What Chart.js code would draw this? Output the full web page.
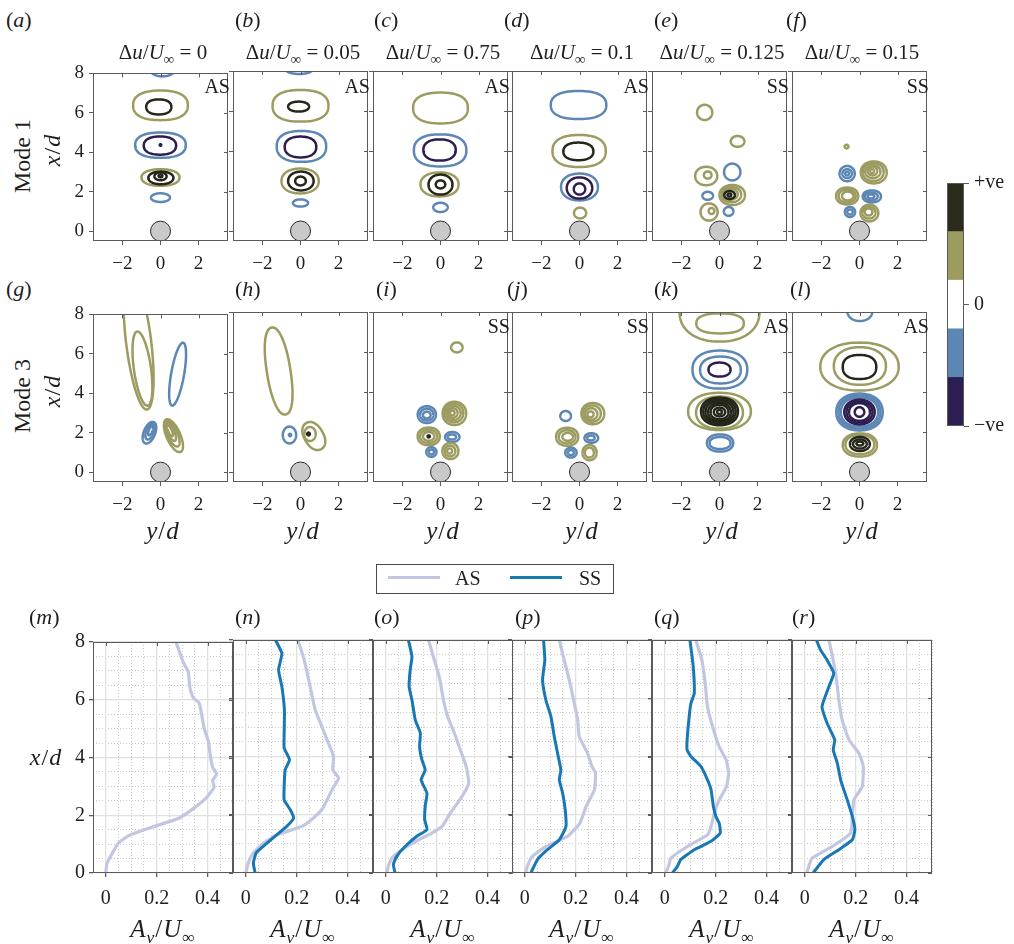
<!DOCTYPE html>
<html>
<head>
<meta charset="utf-8">
<script src="https://cdn.jsdelivr.net/npm/chart.js@4.4.1/dist/chart.umd.min.js"></script>
<style>
  body { margin: 0; background: #fff; }
  #fig { position: relative; width: 1014px; height: 944px; overflow: hidden;
         font-family: 'Liberation Serif', 'Times New Roman', serif; color: #1e1e1e; }
  .t { position: absolute; white-space: nowrap; line-height: 1; }
  .c { transform: translate(-50%, -50%); }
  .l { transform: translateY(-50%); }
  .r { transform: translate(-100%, -50%); }
  .rot { transform: translate(-50%, -50%) rotate(-90deg); }
  .sub { font-size: 70%; position: relative; top: 0.35em; }
  .wide { letter-spacing: 1px; }
  canvas { position: absolute; }
</style>
</head>
<body>
<div id="fig"></div>
<script>
// ---------------- data ----------------
const speedRatios = ['0', '0.05', '0.75', '0.1', '0.125', '0.15'];
const mode1States = ['AS', 'AS', 'AS', 'AS', 'SS', 'SS'];
const mode3States = ['', '', 'SS', 'SS', 'AS', 'AS'];
const panelLetters = ['a','b','c','d','e','f','g','h','i','j','k','l','m','n','o','p','q','r'];
const legendLabels = ['AS', 'SS'];
const colourbarTicks = ['−ve', '0', '+ve'];
const contourXTicks = [-2, 0, 2];
const contourYTicks = [0, 2, 4, 6, 8];
const profileXTicks = [0, 0.2, 0.4];
const profileYTicks = [0, 2, 4, 6, 8];
const cylinderCentre = [0, 0];

// contour loops: [level, y/d centre, x/d centre, half-width, half-height, tilt (deg), squareness]
const contA = [
  [-1, 0.1, 8.1, 0.58, 0.25, 0, 2], [1, 0, 6.38, 1.44, 0.75, 0, 2.4], [2, -0.09, 6.3, 0.66, 0.38, 0, 2.3],
  [-1, 0, 4.36, 1.33, 0.64, 0, 2.4], [-2, -0.03, 4.34, 0.85, 0.46, 0, 2.3], [-2, 0, 4.37, 0.04, 0.04, 0, 2],
  [1, 0, 2.72, 1.0, 0.42, 0, 2.2], [2, 0.02, 2.7, 0.66, 0.32, 0, 2.1], [2, 0, 2.78, 0.32, 0.2, 0, 2],
  [2, 0, 2.8, 0.1, 0.07, 0, 2], [-1, 0, 1.7, 0.5, 0.22, 0, 2]
];
const contB = [
  [-1, -0.07, 8.1, 0.73, 0.25, 0, 2], [1, 0, 6.26, 1.47, 0.79, 0, 2.4], [2, -0.1, 6.22, 0.55, 0.25, 0, 2.1],
  [-1, 0.05, 4.23, 1.3, 0.77, 0, 2.4], [-2, 0, 4.2, 0.83, 0.52, 0, 2.3], [1, -0.02, 2.5, 0.98, 0.62, 0, 2.2],
  [2, 0.02, 2.5, 0.67, 0.47, 0, 2.1], [2, 0, 2.5, 0.28, 0.22, 0, 2], [-1, 0, 1.4, 0.4, 0.18, 0, 2]
];
const contC = [
  [1, 0, 6.15, 1.44, 0.77, 0, 2.4], [-1, -0.02, 4.03, 1.38, 0.8, 0, 2.4], [-2, -0.05, 4.05, 0.85, 0.53, 0, 2.3],
  [1, -0.05, 2.33, 1.0, 0.6, 0, 2.2], [2, 0, 2.32, 0.63, 0.5, 0, 2.1], [2, 0, 2.33, 0.25, 0.2, 0, 2],
  [-1, 0, 1.18, 0.38, 0.23, 0, 2]
];
const contD = [
  [-1, -0.05, 6.3, 1.46, 0.7, 0, 2.4], [1, -0.02, 4.0, 1.4, 0.8, 0, 2.4], [2, -0.06, 3.98, 0.79, 0.44, 0, 2.3],
  [-1, 0, 2.2, 0.97, 0.67, 0, 2.2], [-2, 0, 2.15, 0.67, 0.53, 0, 2.1], [-2, 0, 2.1, 0.3, 0.28, 0, 2],
  [1, 0.03, 0.9, 0.32, 0.27, 0, 2]
];
const contE = [
  [1, -0.78, 5.93, 0.4, 0.38, 0, 2], [1, 0.95, 4.48, 0.36, 0.27, 0, 2], [1, -0.7, 2.75, 0.58, 0.46, 0, 2.1],
  [1, -0.62, 2.8, 0.2, 0.18, 0, 2], [-1, 0.67, 2.95, 0.43, 0.42, 0, 2], [-1, -0.62, 1.76, 0.28, 0.2, 0, 2],
  [1, 0.67, 1.8, 0.67, 0.5, 0, 2.1], [1, 0.62, 1.82, 0.52, 0.38, 0, 2.1], [1, 0.56, 1.84, 0.4, 0.28, 0, 2],
  [2, 0.53, 1.8, 0.28, 0.2, 0, 2], [2, 0.52, 1.8, 0.1, 0.08, 0, 2], [1, -0.55, 0.95, 0.45, 0.43, 0, 2],
  [1, -0.42, 1.0, 0.15, 0.15, 0, 2], [-1, 0.48, 0.98, 0.25, 0.22, 0, 2]
];
const contF = [
  [1, -0.68, 4.22, 0.1, 0.09, 0, 2],
  [-1, -0.65, 2.87, 0.4, 0.38, 0, 2], [-1, -0.65, 2.87, 0.25, 0.22, 0, 2], [-1, -0.65, 2.87, 0.1, 0.09, 0, 2],
  [1, 0.75, 2.93, 0.68, 0.55, 0, 2.1], [1, 0.72, 2.95, 0.55, 0.45, 0, 2.1], [1, 0.7, 2.97, 0.4, 0.33, 0, 2],
  [1, 0.68, 3.0, 0.25, 0.22, 0, 2], [1, 0.66, 3.0, 0.1, 0.1, 0, 2],
  [1, -0.65, 1.75, 0.58, 0.42, 0, 2.2], [1, -0.65, 1.75, 0.45, 0.32, 0, 2.1], [1, -0.62, 1.75, 0.3, 0.22, 0, 2],
  [-1, 0.65, 1.73, 0.48, 0.3, 0, 2.1], [-1, 0.62, 1.73, 0.34, 0.2, 0, 2], [-1, 0.6, 1.73, 0.18, 0.1, 0, 2],
  [-1, -0.5, 0.95, 0.27, 0.25, 0, 2], [-1, -0.5, 0.95, 0.14, 0.13, 0, 2],
  [1, 0.52, 0.9, 0.47, 0.42, 0, 2], [1, 0.5, 0.92, 0.34, 0.3, 0, 2], [1, 0.48, 0.95, 0.2, 0.18, 0, 2]
];
const contG = [
  [1, -1.15, 6.6, 0.66, 3.45, 7, 2], [1, -0.95, 5.25, 0.45, 1.9, 8, 2], [-1, 0.9, 4.97, 0.34, 1.62, -10, 2],
  [-1, -0.58, 2.0, 0.3, 0.58, -22, 2], [-1, -0.55, 2.05, 0.2, 0.42, -22, 2], [-1, -0.52, 2.1, 0.1, 0.25, -22, 2],
  [1, 0.68, 1.85, 0.36, 0.9, 24, 2], [1, 0.62, 1.95, 0.27, 0.7, 24, 2], [1, 0.55, 2.05, 0.18, 0.5, 24, 2],
  [1, 0.5, 2.1, 0.1, 0.3, 24, 2]
];
const contH = [
  [1, -1.15, 5.05, 0.62, 2.2, 9, 2.2], [-1, -0.58, 1.85, 0.35, 0.42, 0, 2], [-1, -0.55, 1.85, 0.06, 0.06, 0, 2],
  [1, 0.7, 1.8, 0.5, 0.75, 30, 2.2], [1, 0.5, 1.9, 0.3, 0.35, 0, 2], [2, 0.42, 1.9, 0.07, 0.07, 0, 2]
];
const contI = [
  [1, 0.86, 6.23, 0.3, 0.25, 0, 2],
  [-1, -0.72, 2.87, 0.48, 0.42, 0, 2.1], [-1, -0.72, 2.87, 0.35, 0.3, 0, 2], [-1, -0.72, 2.85, 0.2, 0.17, 0, 2],
  [1, 0.73, 2.93, 0.62, 0.58, 0, 2.1], [1, 0.7, 2.95, 0.5, 0.47, 0, 2.1], [1, 0.68, 2.95, 0.38, 0.36, 0, 2],
  [1, 0.65, 2.95, 0.25, 0.24, 0, 2], [1, 0.62, 2.95, 0.12, 0.12, 0, 2],
  [1, -0.62, 1.78, 0.58, 0.44, 0, 2.2], [1, -0.62, 1.78, 0.45, 0.33, 0, 2.1], [1, -0.62, 1.78, 0.3, 0.22, 0, 2],
  [2, -0.62, 1.78, 0.06, 0.05, 0, 2],
  [-1, 0.62, 1.75, 0.38, 0.25, 0, 2], [-1, 0.6, 1.75, 0.22, 0.13, 0, 2],
  [-1, -0.48, 1.0, 0.27, 0.24, 0, 2], [-1, -0.48, 1.0, 0.14, 0.12, 0, 2],
  [1, 0.52, 1.05, 0.42, 0.4, 0, 2.1], [1, 0.5, 1.05, 0.28, 0.27, 0, 2], [1, 0.48, 1.05, 0.13, 0.13, 0, 2]
];
const contJ = [
  [-1, -0.73, 2.8, 0.28, 0.25, 0, 2],
  [1, 0.7, 2.92, 0.6, 0.53, 0, 2.1], [1, 0.66, 2.92, 0.46, 0.41, 0, 2.1], [1, 0.62, 2.9, 0.32, 0.29, 0, 2],
  [1, 0.58, 2.88, 0.16, 0.15, 0, 2],
  [1, -0.65, 1.76, 0.58, 0.45, 0, 2.2], [1, -0.65, 1.76, 0.44, 0.33, 0, 2.1], [1, -0.62, 1.76, 0.28, 0.2, 0, 2],
  [-1, 0.62, 1.7, 0.36, 0.24, 0, 2], [-1, 0.6, 1.7, 0.2, 0.12, 0, 2],
  [-1, -0.45, 0.97, 0.3, 0.25, 0, 2], [-1, -0.45, 0.97, 0.16, 0.13, 0, 2],
  [1, 0.53, 0.97, 0.37, 0.38, 0, 2.1], [1, 0.52, 0.97, 0.24, 0.25, 0, 2]
];
const contK = [
  [1, 0, 8.0, 2.1, 1.48, 0, 2.2], [1, 0.03, 7.43, 1.25, 0.5, 0, 2.4],
  [-1, 0.02, 5.12, 1.44, 0.95, 0, 2.3], [-1, 0.05, 5.1, 1.07, 0.67, 0, 2.3], [-2, 0, 5.12, 0.58, 0.35, 0, 2.2],
  [1, 0, 3.03, 1.65, 0.93, 0, 2.2], [1, 0, 2.97, 1.23, 0.8, 0, 2.2],
  [2, 0, 3.03, 0.97, 0.69, 0, 2.2], [2, 0, 3.03, 0.85, 0.6, 0, 2.2], [2, 0, 3.02, 0.73, 0.52, 0, 2.2],
  [2, 0, 3.0, 0.6, 0.45, 0, 2.1], [2, 0, 3.0, 0.47, 0.36, 0, 2.1], [2, 0, 3.0, 0.3, 0.22, 0, 2],
  [2, 0, 3.0, 0.13, 0.1, 0, 2],
  [-1, 0.03, 1.45, 0.69, 0.43, 0, 2.2], [-1, 0.03, 1.45, 0.55, 0.3, 0, 2.2]
];
const contL = [
  [-1, 0.02, 8.05, 0.66, 0.5, 0, 2.1],
  [1, 0, 5.27, 2.06, 1.2, 0, 2.2], [1, 0.02, 5.3, 1.37, 0.94, 0, 2.2], [2, 0, 5.25, 0.88, 0.6, 0, 2.4],
  [-1, 0, 3.0, 1.22, 0.92, 0, 2.2], [-1, 0, 3.0, 1.1, 0.82, 0, 2.2], [-1, 0, 3.0, 0.98, 0.73, 0, 2.2],
  [-2, 0, 3.0, 0.8, 0.62, 0, 2.1], [-2, 0, 3.0, 0.68, 0.53, 0, 2.1], [-2, 0, 3.0, 0.55, 0.44, 0, 2.1],
  [-2, 0, 3.0, 0.25, 0.24, 0, 2],
  [1, 0.02, 1.35, 0.9, 0.58, 0, 2.2], [1, 0.02, 1.37, 0.76, 0.48, 0, 2.2],
  [2, 0.02, 1.4, 0.52, 0.35, 0, 2.1], [2, 0.02, 1.4, 0.36, 0.23, 0, 2], [2, 0.02, 1.42, 0.18, 0.1, 0, 2]
];

// amplitude profiles: [A_v/U, x/d]
const asM = [[0.276,8],[0.304,7.31],[0.324,6.97],[0.331,6.4],[0.344,6.06],[0.367,5.89],[0.377,5.49],[0.386,5.03],
  [0.403,4.57],[0.412,4.0],[0.42,3.66],[0.436,3.43],[0.42,3.2],[0.426,2.97],[0.396,2.61],[0.344,2.23],[0.285,1.89],
  [0.186,1.6],[0.094,1.31],[0.049,1.03],[0.026,0.69],[0.005,0.34],[0.0,0]];
const asN = [[0.205,8],[0.23,7.31],[0.253,6.4],[0.273,5.6],[0.299,5.03],[0.325,4.46],[0.345,4.0],[0.342,3.54],
  [0.365,3.26],[0.339,2.86],[0.303,2.23],[0.266,1.89],[0.22,1.6],[0.122,1.31],[0.07,1.03],[0.03,0.69],[0.01,0.34],[0.0,0]];
const ssN = [[0.117,8],[0.142,7.54],[0.129,6.97],[0.142,6.4],[0.152,5.6],[0.151,4.8],[0.151,4.29],[0.172,3.89],
  [0.155,3.54],[0.151,2.97],[0.151,2.51],[0.175,2.17],[0.188,1.89],[0.161,1.6],[0.115,1.26],[0.076,0.97],
  [0.041,0.69],[0.03,0.34],[0.037,0]];
const asO = [[0.168,8],[0.191,7.31],[0.21,6.74],[0.227,5.94],[0.243,5.37],[0.27,4.8],[0.293,4.23],[0.316,3.66],
  [0.326,3.09],[0.3,2.63],[0.254,2.06],[0.221,1.6],[0.181,1.37],[0.129,1.14],[0.063,0.8],[0.024,0.51],[0.01,0.23],[0.004,0]];
const ssO = [[0.089,8],[0.103,7.43],[0.096,6.97],[0.092,6.4],[0.103,5.94],[0.116,5.26],[0.136,4.8],[0.133,4.34],
  [0.142,3.89],[0.155,3.54],[0.139,3.2],[0.162,2.74],[0.155,2.29],[0.153,1.83],[0.162,1.49],[0.122,1.26],
  [0.076,0.91],[0.043,0.57],[0.03,0.29],[0.037,0]];
const asP = [[0.136,8],[0.155,7.31],[0.175,6.63],[0.192,5.94],[0.208,5.26],[0.214,4.69],[0.247,4.11],[0.264,3.66],
  [0.278,3.43],[0.274,2.86],[0.241,2.29],[0.217,1.71],[0.168,1.26],[0.083,0.91],[0.03,0.57],[0.01,0.23],[0.004,0]];
const ssP = [[0.074,8],[0.079,7.31],[0.07,6.63],[0.083,5.94],[0.103,5.37],[0.116,4.69],[0.129,4.11],[0.142,3.54],
  [0.136,3.2],[0.149,2.74],[0.159,2.17],[0.162,1.6],[0.136,1.14],[0.089,0.8],[0.05,0.46],[0.024,0]];
const asQ = [[0.122,8],[0.146,7.31],[0.159,6.51],[0.168,5.71],[0.188,5.03],[0.214,4.34],[0.241,3.89],[0.251,3.43],
  [0.243,2.97],[0.214,2.51],[0.195,2.06],[0.182,1.6],[0.168,1.31],[0.089,0.91],[0.024,0.51],[0.017,0.29],[0.004,0]];
const ssQ = [[0.099,8],[0.112,7.09],[0.116,6.17],[0.103,5.83],[0.096,5.37],[0.088,4.57],[0.088,4.23],[0.103,4.0],
  [0.142,3.66],[0.168,3.2],[0.182,2.86],[0.191,2.29],[0.201,1.94],[0.214,1.71],[0.218,1.37],[0.182,1.09],
  [0.116,0.8],[0.063,0.46],[0.05,0.23],[0.03,0]];
const asR = [[0.095,8],[0.112,7.31],[0.125,6.63],[0.134,5.94],[0.147,5.26],[0.174,4.57],[0.213,4.11],[0.23,3.66],
  [0.226,2.97],[0.193,2.51],[0.187,1.94],[0.18,1.37],[0.108,0.91],[0.029,0.51],[0.016,0.23],[0.009,0]];
const ssR = [[0.046,8],[0.062,7.66],[0.088,7.31],[0.114,6.86],[0.095,6.4],[0.068,5.71],[0.088,5.14],[0.118,4.57],
  [0.112,4.23],[0.128,3.77],[0.141,3.2],[0.167,2.51],[0.187,1.94],[0.197,1.49],[0.187,1.14],[0.134,0.8],
  [0.075,0.46],[0.033,0]];

// ---------------- styling / layout ----------------
const serif = "'Liberation Serif', 'Times New Roman', serif";
const ink = '#1e1e1e';
const frameColour = '#5a5a5a';
const asColour = '#c3c6e1';
const ssColour = '#1778b5';
const levelColour = { '2': '#25261a', '1': '#9c9b60', '-1': '#5c87b5', '-2': '#2c1e50' };
const bandColours = ['#2c1e50', '#5c87b5', '#ffffff', '#9c9b60', '#2b2c1c'];
const colLeft = [93, 233, 373, 512, 652, 792];
const colW = 140;
const rowTop = [71, 312, 640];

Chart.defaults.font.family = serif;
Chart.defaults.color = ink;

const fmt = v => (v < 0 ? '−' + (-v) : String(v));
const fixedTicks = vals => s => { s.ticks = vals.map(v => ({ value: v })); };

// box around the plotting area plus the inward ticks on the top and right edges
Chart.register({
  id: 'frame',
  afterDraw(chart, args, opts) {
    const { ctx, chartArea: a, scales } = chart;
    ctx.save();
    ctx.strokeStyle = frameColour;
    ctx.lineWidth = 1;
    ctx.strokeRect(Math.round(a.left) + 0.5, Math.round(a.top) + 0.5,
                   Math.round(a.right - a.left) - 1, Math.round(a.bottom - a.top) - 1);
    ctx.beginPath();
    (opts.xt || []).forEach(v => {
      const px = Math.round(scales.x.getPixelForValue(v)) + 0.5;
      ctx.moveTo(px, a.top); ctx.lineTo(px, a.top + 4);
    });
    (opts.yt || []).forEach(v => {
      const py = Math.round(scales.y.getPixelForValue(v)) + 0.5;
      ctx.moveTo(a.right, py); ctx.lineTo(a.right - 4, py);
    });
    ctx.stroke();
    ctx.restore();
  }
});

// closed contour loops, drawn as tilted superellipses in data coordinates
Chart.register({
  id: 'contours',
  afterDatasetsDraw(chart, args, opts) {
    if (!opts.items) return;
    const { ctx, chartArea: a, scales: { x, y } } = chart;
    ctx.save();
    ctx.beginPath();
    ctx.rect(a.left, a.top, a.right - a.left, a.bottom - a.top);
    ctx.clip();
    ctx.lineWidth = 2.5;
    ctx.lineJoin = 'round';
    for (const [lvl, cx, cy, rx, ry, tilt, n] of opts.items) {
      const px = x.getPixelForValue(cx), py = y.getPixelForValue(cy);
      const sx = Math.abs(x.getPixelForValue(cx + rx) - px);
      const sy = Math.abs(y.getPixelForValue(cy + ry) - py);
      const th = -tilt * Math.PI / 180, ct = Math.cos(th), st = Math.sin(th);
      ctx.strokeStyle = levelColour[lvl];
      ctx.beginPath();
      for (let i = 0; i <= 120; i++) {
        const t = i / 120 * 2 * Math.PI, c = Math.cos(t), s = Math.sin(t);
        const u = sx * Math.sign(c) * Math.pow(Math.abs(c), 2 / n);
        const w = -sy * Math.sign(s) * Math.pow(Math.abs(s), 2 / n);
        const X = px + u * ct - w * st, Y = py + u * st + w * ct;
        if (i === 0) ctx.moveTo(X, Y); else ctx.lineTo(X, Y);
      }
      ctx.closePath();
      ctx.stroke();
    }
    ctx.restore();
  }
});

const fig = document.getElementById('fig');

function addChart(left, top, width, height, config) {
  const c = document.createElement('canvas');
  c.width = width; c.height = height;
  c.style.left = left + 'px'; c.style.top = top + 'px';
  c.style.width = width + 'px'; c.style.height = height + 'px';
  fig.appendChild(c);
  config.options.responsive = false;
  config.options.animation = false;
  config.options.events = [];
  return new Chart(c, config);
}

function text(html, x, y, size, cls) {
  const d = document.createElement('div');
  d.className = 't ' + cls;
  d.style.left = x + 'px';
  d.style.top = y + 'px';
  d.style.fontSize = size + 'px';
  d.innerHTML = html;
  fig.appendChild(d);
}

function contourPanel(col, top, items, showY) {
  const L = colLeft[col];
  addChart(L - 40, top - 14, 40 + colW + 6, 14 + 170 + 38, {
    type: 'scatter',
    data: {
      datasets: [{
        data: [{ x: cylinderCentre[0], y: cylinderCentre[1] }],
        pointRadius: 10, backgroundColor: '#c9c9c9', borderColor: '#2a2a2a', borderWidth: 1
      }]
    },
    options: {
      layout: { padding: { left: 0, top: 14, right: 6, bottom: 0 } },
      plugins: {
        legend: { display: false }, tooltip: { enabled: false },
        contours: { items }, frame: { xt: contourXTicks, yt: contourYTicks }
      },
      scales: {
        x: {
          type: 'linear', min: -3.55, max: 3.55,
          afterBuildTicks: fixedTicks(contourXTicks), afterFit: s => { s.height = 38; },
          border: { display: false },
          grid: { drawOnChartArea: false, tickLength: 4, tickColor: frameColour },
          ticks: { font: { size: 19 }, color: ink, padding: 8, maxRotation: 0, callback: fmt }
        },
        y: {
          type: 'linear', min: -0.5, max: 8,
          afterBuildTicks: fixedTicks(contourYTicks), afterFit: s => { s.width = 40; },
          border: { display: false },
          grid: { drawOnChartArea: false, tickLength: 4, tickColor: frameColour },
          ticks: { display: showY, font: { size: 19 }, color: ink, padding: 5, callback: fmt }
        }
      }
    }
  });
}

function profilePanel(col, as, ss) {
  const L = colLeft[col];
  const pts = arr => arr.map(([x, y]) => ({ x, y }));
  const datasets = [];
  if (ss) datasets.push({ label: 'SS', data: pts(ss), showLine: true, borderColor: ssColour,
                          borderWidth: 3, pointRadius: 0, tension: 0.15, order: 0 });
  datasets.push({ label: 'AS', data: pts(as), showLine: true, borderColor: asColour,
                  borderWidth: 3.2, pointRadius: 0, tension: 0.15, order: 1 });
  const minorX = [], minorY = [];
  for (let i = -1; i <= 10; i++) if (i % 4 !== 0) minorX.push(i * 0.05);
  for (let i = 1; i < 16; i++) if (i % 4 !== 0) minorY.push(i * 0.5);
  addChart(L - 40, rowTop[2] - 14, 40 + colW + 6, 14 + 233 + 42, {
    type: 'scatter',
    data: { datasets },
    options: {
      layout: { padding: { left: 0, top: 14, right: 6, bottom: 0 } },
      plugins: {
        legend: { display: false }, tooltip: { enabled: false },
        frame: { xt: profileXTicks, yt: profileYTicks }
      },
      scales: {
        x2: {
          type: 'linear', position: 'bottom', min: -0.05, max: 0.5,
          afterBuildTicks: fixedTicks(minorX), afterFit: s => { s.height = 0; },
          ticks: { display: false },
          border: { display: false, dash: [1, 2] },
          grid: { color: '#bdbdbd', lineWidth: 0.8, drawTicks: false }
        },
        y2: {
          type: 'linear', position: 'left', min: 0, max: 8,
          afterBuildTicks: fixedTicks(minorY), afterFit: s => { s.width = 0; },
          ticks: { display: false },
          border: { display: false, dash: [1, 2] },
          grid: { color: '#bdbdbd', lineWidth: 0.8, drawTicks: false }
        },
        x: {
          type: 'linear', position: 'bottom', min: -0.05, max: 0.5,
          afterBuildTicks: fixedTicks(profileXTicks), afterFit: s => { s.height = 42; },
          border: { display: false },
          grid: { color: '#e0e0e0', lineWidth: 1.3, tickLength: 4, tickColor: frameColour },
          ticks: { font: { size: 20 }, color: ink, padding: 10, maxRotation: 0, callback: fmt }
        },
        y: {
          type: 'linear', position: 'left', min: 0, max: 8,
          afterBuildTicks: fixedTicks(profileYTicks), afterFit: s => { s.width = 40; },
          border: { display: false },
          grid: { color: '#e0e0e0', lineWidth: 1.3, tickLength: 4, tickColor: frameColour },
          ticks: { display: col === 0, font: { size: 20 }, color: ink, padding: 4, callback: fmt }
        }
      }
    }
  });
}

// ---------------- panels ----------------
[contA, contB, contC, contD, contE, contF].forEach((c, i) => contourPanel(i, rowTop[0], c, i === 0));
[contG, contH, contI, contJ, contK, contL].forEach((c, i) => contourPanel(i, rowTop[1], c, i === 0));
profilePanel(0, asM, null);
profilePanel(1, asN, ssN);
profilePanel(2, asO, ssO);
profilePanel(3, asP, ssP);
profilePanel(4, asQ, ssQ);
profilePanel(5, asR, ssR);

// colour bar: five stacked bands, negative at the bottom
addChart(940, 166, 74, 277, {
  type: 'bar',
  data: {
    labels: [''],
    datasets: bandColours.map(col => ({ data: [1], backgroundColor: col, borderWidth: 0,
                                        barPercentage: 1, categoryPercentage: 1 }))
  },
  options: {
    layout: { padding: { left: 7, top: 14, right: 0, bottom: 14 } },
    plugins: { legend: { display: false }, tooltip: { enabled: false }, frame: {} },
    scales: {
      x: { stacked: true, display: false },
      y: {
        stacked: true, position: 'right', min: 0, max: bandColours.length,
        afterBuildTicks: fixedTicks([0, bandColours.length / 2, bandColours.length]),
        afterFit: s => { s.width = 50; },
        border: { display: false },
        grid: { drawOnChartArea: false, tickLength: 5, tickColor: frameColour },
        ticks: { font: { size: 20 }, color: ink, padding: 5, callback: (v, i) => colourbarTicks[i] }
      }
    }
  }
});

// ---------------- text ----------------
const centres = colLeft.map(l => l + colW / 2);
const letterX = [[6, 235, 374, 504, 654, 786], [6, 235, 376, 507, 654, 790], [29, 235, 374, 515, 654, 792]];
const letterY = [20, 289, 617];
letterX.forEach((row, r) => row.forEach((x, i) =>
  text('(<i>' + panelLetters[r * 6 + i] + '</i>)', x, letterY[r], 22, 'l')));

speedRatios.forEach((v, i) =>
  text('Δ<i>u</i>/<i>U</i><span class="sub">∞</span> = ' + v, centres[i], 52, 21, 'c'));
mode1States.forEach((s, i) => { if (s) text(s, colLeft[i] + colW - 3, 86, 20, 'r'); });
mode3States.forEach((s, i) => { if (s) text(s, colLeft[i] + colW - 3, 326, 20, 'r'); });

text('Mode 1', 22, 156, 24, 'rot');
text('<i>x</i>/<i>d</i>', 52, 150, 24, 'rot wide');
text('Mode 3', 22, 396, 24, 'rot');
text('<i>x</i>/<i>d</i>', 52, 391, 24, 'rot wide');
text('<i>x</i>/<i>d</i>', 46, 757, 24, 'c wide');
centres.forEach(x => text('<i>y</i>/<i>d</i>', x, 530, 25, 'c wide'));
centres.forEach(x => text('<i>A</i><span class="sub"><i>v</i></span>/<i>U</i><span class="sub">∞</span>',
                          x, 928, 25, 'c wide'));

// legend for the amplitude profiles
const box = document.createElement('div');
box.style.cssText = 'position:absolute;left:376px;top:564px;width:236px;height:28px;border:1px solid #4a4a4a;background:#fff';
fig.appendChild(box);
[[388, asColour, 455], [510, ssColour, 579]].forEach(([x0, col, tx], i) => {
  const ln = document.createElement('div');
  ln.style.cssText = `position:absolute;left:${x0}px;top:576px;width:52px;height:3px;background:${col}`;
  fig.appendChild(ln);
  text(legendLabels[i], tx, 578, 20, 'l');
});
</script>
</body>
</html>
